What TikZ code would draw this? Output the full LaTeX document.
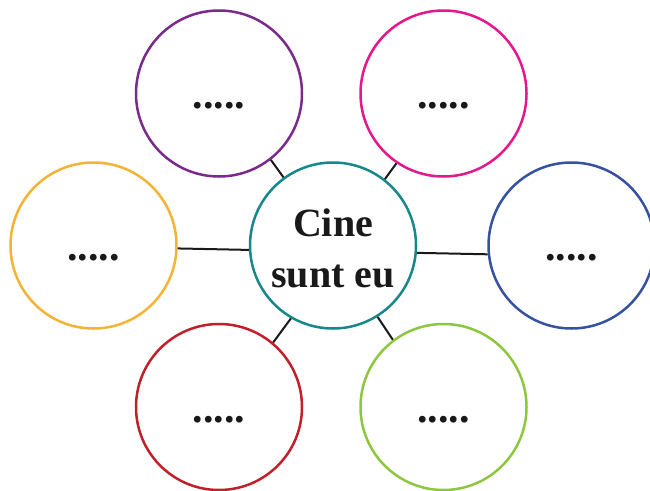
\documentclass[tikz,border=0pt]{standalone}
\usepackage{fontspec}
\setmainfont{Liberation Serif}
\definecolor{cpurple}{HTML}{7B2A8C}
\definecolor{cmagenta}{HTML}{E6168C}
\definecolor{corange}{HTML}{F5B335}
\definecolor{cblue}{HTML}{3551A2}
\definecolor{cred}{HTML}{C1202A}
\definecolor{cgreen}{HTML}{8DC63F}
\definecolor{cteal}{HTML}{16878A}
\begin{document}
\begin{tikzpicture}[x=1pt,y=-1pt,
  circ/.style={draw=#1,circle,line width=2.5pt,minimum size=166pt,inner sep=0pt},
  dotlbl/.style={anchor=base,inner sep=0pt,font=\fontsize{42}{42}\selectfont\bfseries,text=black!90},
  ctext/.style={anchor=base,inner sep=0pt,font=\fontsize{40}{48}\selectfont\bfseries,text=black!90},
  link/.style={line width=2pt,black!90}]
\useasboundingbox (0,0) rectangle (650,490);
\node[circ=cteal] (c) at (333,245.5) {};
\node[circ=cpurple] (tl) at (219,93.5) {};
\node[circ=cmagenta] (tr) at (443.5,93.5) {};
\node[circ=corange] (l) at (93.5,245.5) {};
\node[circ=cblue] (r) at (571.5,245.5) {};
\node[circ=cred] (bl) at (219,407) {};
\node[circ=cgreen] (br) at (443.5,407) {};
\node[ctext] (t1) at (333,236) {Cine};
\node[ctext] (t2) at (333,287) {sunt eu};
\node[dotlbl] (d1) at (219,108) {.....};
\node[dotlbl] (d2) at (443.5,108) {.....};
\node[dotlbl] (d3) at (93.5,260) {.....};
\node[dotlbl] (d4) at (571.5,260) {.....};
\node[dotlbl] (d5) at (219,422) {.....};
\node[dotlbl] (d6) at (443.5,422) {.....};
\draw[link] (c.126.5) -- (tl.-52.5);
\draw[link] (c.52.4) -- (tr.-124.4);
\draw[link] (c.183.8) -- (l.-2.4);
\draw[link] (c.-5.4) -- (r.186.6);
\draw[link] (c.-120.7) -- (bl.50.3);
\draw[link] (c.-58.2) -- (br.127);
\end{tikzpicture}
\end{document}
